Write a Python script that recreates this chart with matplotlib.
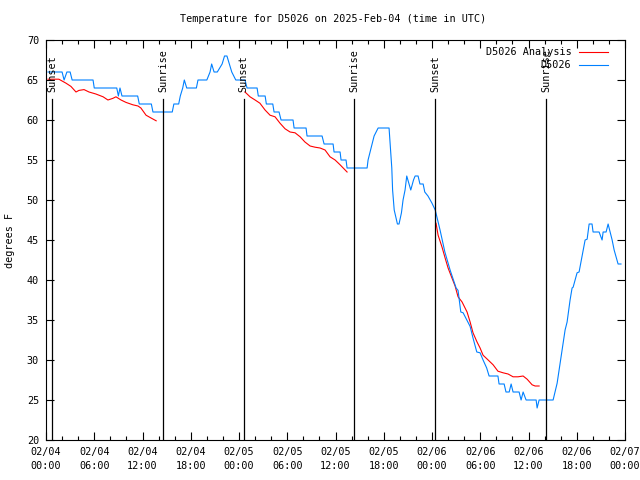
import matplotlib
matplotlib.use("Agg")
import matplotlib.pyplot as plt
import numpy as np

# hours since 02/04 00:00 UTC
obs_t = [0.25, 2.0, 2.25, 2.6, 3.0, 3.25, 5.85, 6.0, 8.8, 9.0, 9.2, 9.45, 11.4, 11.6, 13.1, 13.3,
         15.7, 15.9, 16.5, 16.7, 17.0, 17.2, 17.5, 18.7, 18.9, 20.0, 20.4, 20.6, 20.9, 21.3, 21.9,
         22.2, 22.5, 22.8, 23.1, 23.6, 24.75, 25.0, 26.25, 26.4, 27.25, 27.4, 28.2, 28.36, 28.98,
         29.23, 30.72, 30.85, 32.34, 32.46, 34.33, 34.58, 35.7, 35.82, 36.57, 36.69, 37.31, 37.44,
         39.93, 40.05, 40.3, 40.55, 40.8, 41.3, 42.66, 43.0, 43.1, 43.2, 43.3, 43.5, 43.7, 43.9,
         44.2, 44.4, 44.65, 44.86, 45.0, 45.36, 45.7, 45.9, 46.27, 46.5, 46.9, 47.1, 47.5, 48.0,
         48.4, 49.0, 49.6, 50.25, 51.0, 51.24, 51.58, 51.87, 52.74, 53.1, 53.57, 53.98, 54.35,
         54.8, 55.1, 56.2, 56.34, 56.97, 57.2, 57.6, 57.84, 58.08, 58.83, 59.08, 59.33, 59.7,
         60.95, 61.07, 61.32, 63.06, 63.56, 63.93, 64.3, 64.55, 64.8, 65.17, 65.42, 65.55, 66.04,
         66.29, 66.67, 67.04, 67.29, 67.54, 67.9, 68.03, 68.78, 69.15, 69.28, 69.65, 69.9, 70.15,
         70.4, 70.65, 71.0, 71.14, 71.5]
obs_v = [66, 66, 65, 66, 66, 65, 65, 64, 64, 63, 64, 63, 63, 62, 62, 61,
         61, 62, 62, 63, 64, 65, 64, 64, 65, 65, 66, 67, 66, 66, 67,
         68, 68, 67, 66, 65, 65, 64, 64, 63, 63, 62, 62, 61, 61,
         60, 60, 59, 59, 58, 58, 57, 57, 56, 56, 55, 55, 54,
         54, 55, 56, 57, 58, 59, 59, 54, 51.25, 50, 48.75, 47.9, 47, 47,
         48.4, 50, 51.25, 53, 52.5, 51.25, 52.5, 53, 53, 52, 52, 51, 50.5, 49.6,
         48.75, 46.25, 43.5, 41.25, 39, 38.7, 36, 35.9, 34.2, 32.75, 31, 30.9, 30,
         29, 28, 28, 27, 27, 26, 26, 27, 26, 26, 25, 26, 25,
         25, 24, 25, 25, 27.1, 29.6, 32.1, 33.75, 34.75, 37.5, 39, 39.1, 40.9,
         41, 43, 45, 45.1, 47, 47, 46, 46, 45, 46, 46, 47, 46,
         45, 43.75, 42.5, 42, 42]

ana1_t = [0.25, 1.6, 2.49, 3.1, 3.73, 4.1, 4.73, 5.35, 6.2, 7.1, 7.7, 8.3, 8.7, 9.33, 9.95,
          10.8, 11.44, 11.8, 12.44, 13.06, 13.7]
ana1_v = [65.1, 65.1, 64.6, 64.2, 63.5, 63.7, 63.8, 63.5, 63.25, 62.9, 62.5, 62.7, 62.9, 62.5,
          62.2, 61.9, 61.75, 61.5, 60.6, 60.25, 59.9]
ana2_t = [24.75, 25.37, 26.0, 26.6, 27.24, 27.86, 28.48, 29.1, 29.73, 30.35, 30.97, 31.6, 32.2,
          32.84, 33.46, 34.08, 34.7, 35.32, 35.95, 36.57, 37.44]
ana2_v = [63.5, 62.9, 62.5, 62.1, 61.25, 60.6, 60.4, 59.6, 58.9, 58.5, 58.4, 57.9, 57.25,
          56.75, 56.6, 56.5, 56.25, 55.4, 55.0, 54.4, 53.5]
ana3_t = [48.5, 48.76, 49.25, 49.63, 50.0, 50.5, 50.87, 51.24, 51.74, 52.36, 52.74, 53.1, 53.6,
          53.98, 54.35, 54.98, 55.6, 56.2, 56.84, 57.46, 58.08, 58.7, 59.33, 59.83, 60.45,
          60.82, 61.32]
ana3_v = [47.1, 45.6, 44.1, 42.75, 41.5, 40.2, 39.25, 37.9, 37.25, 36.0, 34.75, 33.4, 32.25,
          31.5, 30.6, 30.0, 29.4, 28.6, 28.4, 28.25, 27.9, 27.9, 28.0, 27.6, 26.9, 26.75, 26.75]

sun_t = [0.75, 14.55, 24.6, 38.3, 48.4, 62.2]
sun_lbl = ["Sunset", "Sunrise", "Sunset", "Sunrise", "Sunset", "Sunrise"]

xt = [0, 6, 12, 18, 24, 30, 36, 42, 48, 54, 60, 66, 72]
xt_lbl = ["02/04\n00:00", "02/04\n06:00", "02/04\n12:00", "02/04\n18:00",
          "02/05\n00:00", "02/05\n06:00", "02/05\n12:00", "02/05\n18:00",
          "02/06\n00:00", "02/06\n06:00", "02/06\n12:00", "02/06\n18:00",
          "02/07\n00:00"]

plt.rcParams['font.family'] = ['DejaVu Sans Mono']
fs = 7.3

fig = plt.figure(figsize=(6.4, 4.8), dpi=100)
ax = fig.add_axes([46/640, 40/480, 579/640, 400/480])

ax.plot(ana1_t, ana1_v, color='#ff0000', lw=0.8, label='D5026 Analysis')
ax.plot(ana2_t, ana2_v, color='#ff0000', lw=0.8)
ax.plot(ana3_t, ana3_v, color='#ff0000', lw=0.8)
ax.plot(obs_t, obs_v, color='#0080ff', lw=0.8, label='D5026')

for t, lbl in zip(sun_t, sun_lbl):
    ax.plot([t, t], [20, 62.6], color='black', lw=0.9)
    ax.text(t, 63.5, lbl, rotation=90, ha='center', va='bottom', fontsize=fs)

ax.set_xlim(0, 72)
ax.set_ylim(20, 70)
ax.set_xticks(xt)
ax.set_xticklabels(xt_lbl, fontsize=fs, linespacing=1.55)
ax.set_xticks(np.arange(0, 73, 2), minor=True)
ax.set_yticks(range(20, 71, 5))
ax.set_yticklabels([str(v) for v in range(20, 71, 5)], fontsize=fs)
ax.tick_params(which='both', direction='in', top=True, right=True, width=0.8)
ax.tick_params(which='major', length=6, pad=5)
ax.tick_params(which='minor', length=3)
for s in ax.spines.values():
    s.set_linewidth(0.8)

fig.text(10/640, 0.5, 'degrees F', rotation=90, ha='center', va='center', fontsize=fs)
fig.text(333/640, 1 - 19/480, 'Temperature for D5026 on 2025-Feb-04 (time in UTC)',
         ha='center', va='center', fontsize=fs)

leg = ax.legend(loc='upper right', frameon=False, markerfirst=False, fontsize=fs,
                handlelength=2.9, handletextpad=0.7, labelspacing=0.3, borderaxespad=0.0)
leg.set_bbox_to_anchor((612/640, 1 - 43/480), transform=fig.transFigure)

fig.savefig('out.png', dpi=100)
